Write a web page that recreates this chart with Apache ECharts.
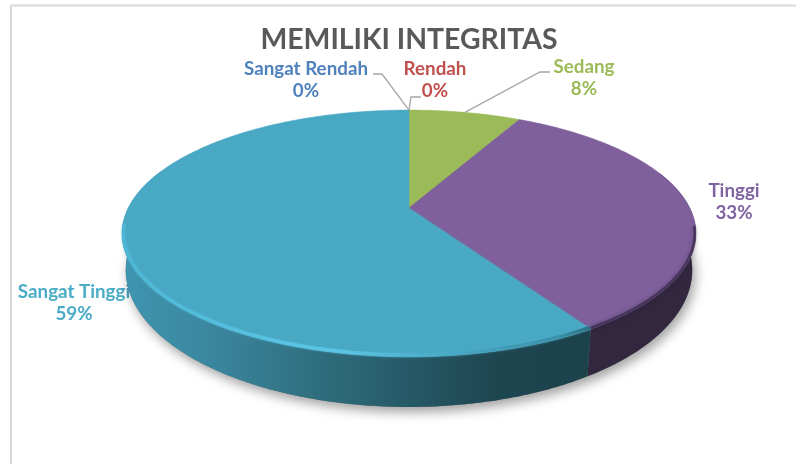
<!DOCTYPE html>
<html>
<head>
<meta charset="utf-8">
<style>html,body{margin:0;padding:0;background:#fff}#c{width:796px;height:466px}</style>
<script src="https://cdn.jsdelivr.net/npm/echarts@6/dist/echarts.min.js"></script>
</head>
<body>
<div id="c"></div>
<script>
var titleText = 'MEMILIKI INTEGRITAS';
var categories = ['Sangat Rendah', 'Rendah', 'Sedang', 'Tinggi', 'Sangat Tinggi'];
var values = [0, 0, 3, 13, 23];
var topColors = ['#4F81BD', '#C0504D', '#9BBB59', '#7F609D', '#49A8C4'];
var labelColors = ['#4F81BD', '#C0504D', '#9BBB59', '#8064A2', '#4BACC6'];

// label anchors (label centre) and elbow of each leader line
var labelAt = [[306, 80], [435, 80], [584, 78], [734, 202], [74, 303]];
var leaderFrom = [[[373, 74], [382, 74]], [[421, 97], [411, 97]], [[550, 72], [540, 72]], null, null];

// perspective disc model
var TOP = { cx: 409, cy: 208, a: 280.8, b: 118.2, k: 0.2065 };
var BOT = { cx: 409, cy: 242.6, a: 277.5, b: 131.5, k: 0.2 };
var TAU = Math.PI * 2;

function rim(d, t) {
  var u = Math.sin(t), w = Math.cos(t), q = 1 + d.k * w;
  return [d.cx + d.a * u / q, d.cy - d.b * w / q];
}
function arc(d, t0, t1) {
  var n = Math.max(2, Math.ceil(Math.abs(t1 - t0) / 0.01)), pts = [];
  for (var i = 0; i <= n; i++) pts.push(rim(d, t0 + (t1 - t0) * i / n));
  return pts;
}
var total = values.reduce(function (a, b) { return a + b; }, 0);
function startAngle(i) {
  var s = 0;
  for (var j = 0; j < i; j++) s += values[j];
  return s / total * TAU;
}
function grad(stops) {
  return new echarts.graphic.LinearGradient(0, 0, 1, 0, stops.map(function (s) {
    return { offset: s[0], color: s[1] };
  }));
}
var FRONT_R = 1.25, FRONT_L = 5.05;
var sideFill = [null, null, null, '#32273F',
  grad([[0, '#3F95B0'], [0.2, '#3A859E'], [0.4, '#30707F'], [0.6, '#265A68'], [0.8, '#1E4650'], [1, '#1C424C']])];

function renderSlice(params, api) {
  var i = params.dataIndex, v = api.value(0);
  var t0 = startAngle(i), t1 = t0 + v / total * TAU, mid = (t0 + t1) / 2;
  var kids = [];

  if (i === 0) {
    kids.push({
      type: 'polygon', z2: 1,
      shape: { points: arc(BOT, 0, TAU) },
      style: { fill: '#777', shadowColor: 'rgba(0,0,0,0.38)', shadowBlur: 12, shadowOffsetX: 3, shadowOffsetY: 5 }
    });
  }
  var s0 = Math.max(t0, FRONT_R), s1 = Math.min(t1, FRONT_L);
  if (v > 0 && s1 > s0) {
    kids.push({
      type: 'polygon', z2: 2,
      shape: { points: arc(TOP, s0, s1).concat(arc(BOT, s1, s0)) },
      style: { fill: sideFill[i] }
    });
  }
  if (v > 0) {
    kids.push({
      type: 'polygon', z2: 3,
      shape: { points: [[TOP.cx, TOP.cy]].concat(arc(TOP, t0, t1)) },
      style: { fill: topColors[i], stroke: topColors[i], lineWidth: 0.5 }
    });
  }
  // bevel along the front rim
  if (i === 3) {
    kids.push({
      type: 'polyline', z2: 4,
      shape: { points: arc({ cx: 409, cy: 208, a: 279.5, b: 117.2, k: 0.2065 }, 1.72, t1) },
      style: { fill: null, stroke: 'rgba(44,32,58,0.6)', lineWidth: 2.5, shadowColor: 'rgba(44,32,58,0.7)', shadowBlur: 4 }
    });
  }
  if (i === 4) {
    kids.push({
      type: 'polyline', z2: 4,
      shape: { points: arc({ cx: 409, cy: 208, a: 279.2, b: 116.6, k: 0.2065 }, t0, 4.58) },
      style: {
        fill: null, lineWidth: 3.5, shadowBlur: 3, shadowColor: 'rgba(80,180,210,0.6)',
        stroke: grad([[0, '#4DB6D4'], [0.3, '#58C2E2'], [0.45, '#5CC6E6'], [0.7, '#49A8C4'], [0.93, '#3C90A9'], [1, '#2C6F82']])
      }
    });
  }
  // label and leader
  var at = labelAt[i];
  kids.push({
    type: 'text', z2: i === 4 ? 0 : 6,
    style: {
      text: categories[i] + '\n' + Math.round(v / total * 100) + '%',
      x: at[0], y: at[1], align: 'center', verticalAlign: 'middle',
      fill: labelColors[i], font: 'bold 18.8px Lato', lineHeight: 22
    }
  });
  if (leaderFrom[i]) {
    kids.push({
      type: 'polyline', z2: 5,
      shape: { points: leaderFrom[i].concat([rim(TOP, mid)]) },
      style: { fill: null, stroke: '#A6A6A6', lineWidth: 1.3 }
    });
  }
  return { type: 'group', children: kids };
}

var chart = echarts.init(document.getElementById('c'), null, { renderer: 'canvas' });
chart.setOption({
  animation: false,
  backgroundColor: '#fff',
  title: {
    text: titleText, left: 404, top: 21, textAlign: 'center',
    textStyle: { fontFamily: 'Lato', fontWeight: 'bold', fontSize: 28.4, color: '#595959' }
  },
  graphic: [
    { type: 'line', silent: true, shape: { x1: 10, y1: 5.5, x2: 796, y2: 5.5 }, style: { stroke: '#D9D9D9', lineWidth: 2 } },
    { type: 'line', silent: true, shape: { x1: 11, y1: 5, x2: 11, y2: 464 }, style: { stroke: '#D9D9D9', lineWidth: 2 } }
  ],
  series: [{
    type: 'custom',
    coordinateSystem: 'none',
    silent: true,
    renderItem: renderSlice,
    data: values.map(function (v, i) { return { name: categories[i], value: [v] }; })
  }]
});
</script>
</body>
</html>
